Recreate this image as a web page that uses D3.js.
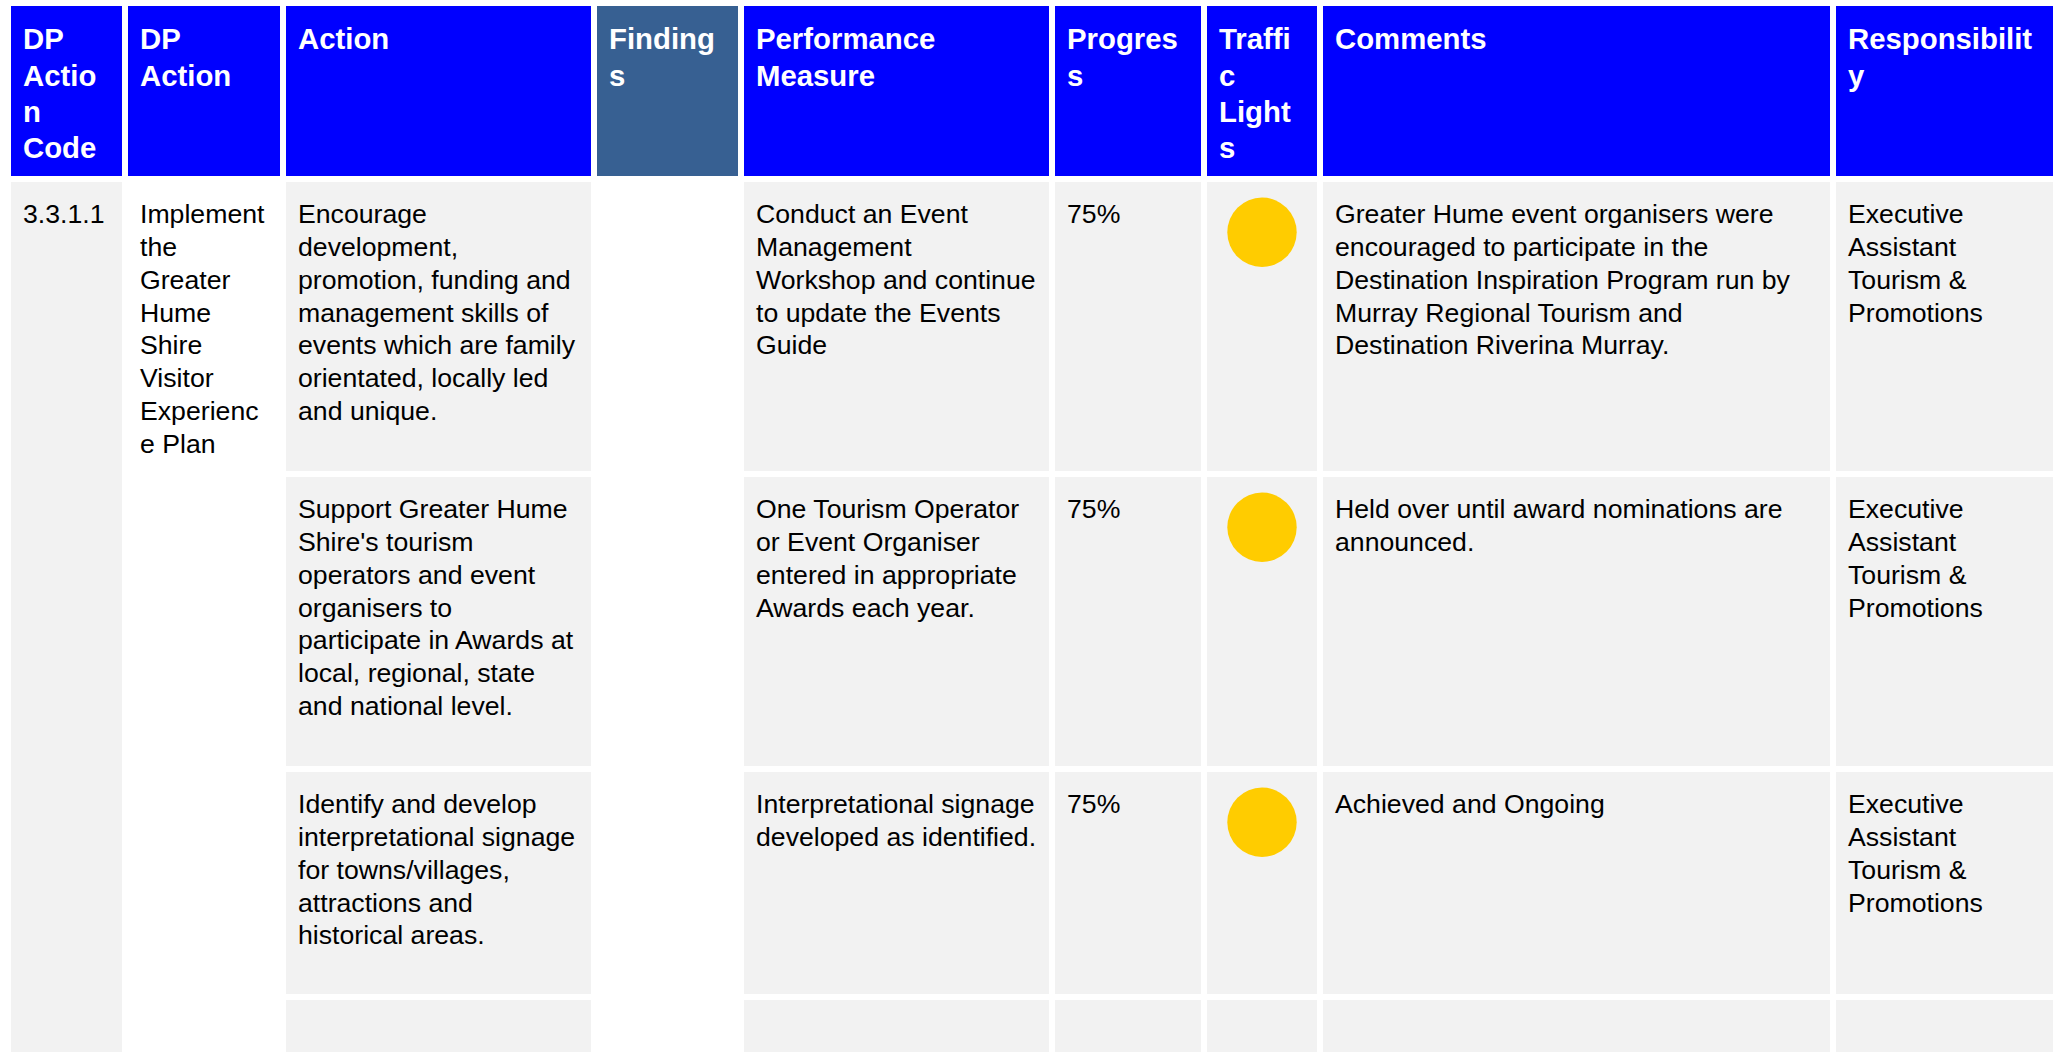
<!DOCTYPE html>
<html>
<head>
<meta charset="utf-8">
<script src="https://cdn.jsdelivr.net/npm/d3@7"></script>
<style>
  html, body { margin: 0; padding: 0; background: #ffffff; }
  svg { display: block; font-family: "Liberation Sans", Arial, sans-serif; }
</style>
</head>
<body>
<svg id="chart" width="2058" height="1052"></svg>
<script>
// ---------------- DATA ----------------
const columns = ["code", "dpAction", "action", "findings", "measure", "progress", "traffic", "comments", "responsibility"];

const headerLabels = [
  ["DP", "Actio", "n", "Code"],
  ["DP", "Action"],
  ["Action"],
  ["Finding", "s"],
  ["Performance", "Measure"],
  ["Progres", "s"],
  ["Traffi", "c", "Light", "s"],
  ["Comments"],
  ["Responsibilit", "y"]
];

const actionCodes = ["3.3.1.1"];
const dpActions = [["Implement", "the", "Greater", "Hume", "Shire", "Visitor", "Experienc", "e Plan"]];

const actions = [
  ["Encourage", "development,", "promotion, funding and", "management skills of", "events which are family", "orientated, locally led", "and unique."],
  ["Support Greater Hume", "Shire's tourism", "operators and event", "organisers to", "participate in Awards at", "local, regional, state", "and national level."],
  ["Identify and develop", "interpretational signage", "for towns/villages,", "attractions and", "historical areas."],
  []
];

const findings = [[], [], [], []];

const measures = [
  ["Conduct an Event", "Management", "Workshop and continue", "to update the Events", "Guide"],
  ["One Tourism Operator", "or Event Organiser", "entered in appropriate", "Awards each year."],
  ["Interpretational signage", "developed as identified."],
  []
];

const progress = ["75%", "75%", "75%", ""];

const trafficLights = ["amber", "amber", "amber", null];

const comments = [
  ["Greater Hume event organisers were", "encouraged to participate in the", "Destination Inspiration Program run by", "Murray Regional Tourism and", "Destination Riverina Murray."],
  ["Held over until award nominations are", "announced."],
  ["Achieved and Ongoing"],
  []
];

const responsibility = [
  ["Executive", "Assistant", "Tourism &", "Promotions"],
  ["Executive", "Assistant", "Tourism &", "Promotions"],
  ["Executive", "Assistant", "Tourism &", "Promotions"],
  []
];

// ---------------- LAYOUT ----------------
const W = 2058, H = 1052;
const colLeft = [11, 128, 286, 597, 744, 1055, 1207, 1323, 1836];
const colRight = [122, 280, 591, 738, 1049, 1201, 1317, 1830, 2053];
const xL = d3.scaleOrdinal(columns, colLeft);
const xR = d3.scaleOrdinal(columns, colRight);

const headerTop = 6, headerBottom = 176;
const rowTop = [182, 477, 772, 1000];
const rowBottom = [471, 766, 994, 1060];
const rowIdx = d3.range(rowTop.length);
const yTop = d3.scaleOrdinal(rowIdx, rowTop);
const yBot = d3.scaleOrdinal(rowIdx, rowBottom);

const padX = 12;
const headerFont = 29.33, headerLine = 36.3, headerBase = 43.3;
const bodyFont = 26.67, bodyLine = 32.8, bodyBase = 41.2;

const BLUE = "#0000ff", STEEL = "#376092", GRAY = "#f2f2f2", AMBER = "#ffcc00";
const lightColor = d3.scaleOrdinal(["amber"], [AMBER]);

const svg = d3.select("#chart").attr("viewBox", `0 0 ${W} ${H}`);

// ---------------- HEADER ----------------
const header = svg.append("g").attr("class", "header");
const hCells = header.selectAll("g").data(columns).join("g");
hCells.append("rect")
  .attr("x", d => xL(d))
  .attr("y", headerTop)
  .attr("width", d => xR(d) - xL(d))
  .attr("height", headerBottom - headerTop)
  .attr("fill", d => d === "findings" ? STEEL : BLUE);
hCells.append("text")
  .attr("fill", "#ffffff")
  .attr("font-weight", "bold")
  .attr("font-size", headerFont)
  .selectAll("tspan")
  .data((d, i) => headerLabels[i].map(t => ({ col: d, t })))
  .join("tspan")
  .attr("x", d => xL(d.col) + padX)
  .attr("y", (d, j) => headerTop + headerBase + j * headerLine)
  .text(d => d.t);

// ---------------- BODY ----------------
const body = svg.append("g").attr("class", "body");

// merged first column (gray, spans all rows)
body.append("rect")
  .attr("x", xL("code"))
  .attr("y", yTop(0))
  .attr("width", xR("code") - xL("code"))
  .attr("height", H - yTop(0) + 10)
  .attr("fill", GRAY);

function drawLines(g, lines, col, r) {
  g.append("text")
    .attr("fill", "#000000")
    .attr("font-size", bodyFont)
    .selectAll("tspan")
    .data(lines)
    .join("tspan")
    .attr("x", xL(col) + padX)
    .attr("y", (d, j) => yTop(r) + bodyBase + j * bodyLine)
    .text(d => d);
}

// merged cells text
drawLines(body, [actionCodes[0]], "code", 0);
drawLines(body, dpActions[0], "dpAction", 0);

const perRowCols = ["action", "measure", "progress", "traffic", "comments", "responsibility"];
const cellData = {
  action: actions,
  measure: measures,
  progress: progress.map(p => p ? [p] : []),
  comments: comments,
  responsibility: responsibility
};

rowIdx.forEach(r => {
  const g = body.append("g").attr("class", "row row-" + r);
  g.selectAll("rect")
    .data(perRowCols)
    .join("rect")
    .attr("x", d => xL(d))
    .attr("y", yTop(r))
    .attr("width", d => xR(d) - xL(d))
    .attr("height", yBot(r) - yTop(r))
    .attr("fill", GRAY);
  // findings column left white
  Object.keys(cellData).forEach(col => drawLines(g, cellData[col][r], col, r));
  drawLines(g, findings[r], "findings", r);
  if (trafficLights[r]) {
    g.append("circle")
      .attr("cx", (xL("traffic") + xR("traffic")) / 2)
      .attr("cy", yTop(r) + 50.3)
      .attr("r", 34.7)
      .attr("fill", lightColor(trafficLights[r]));
  }
});
</script>
</body>
</html>
